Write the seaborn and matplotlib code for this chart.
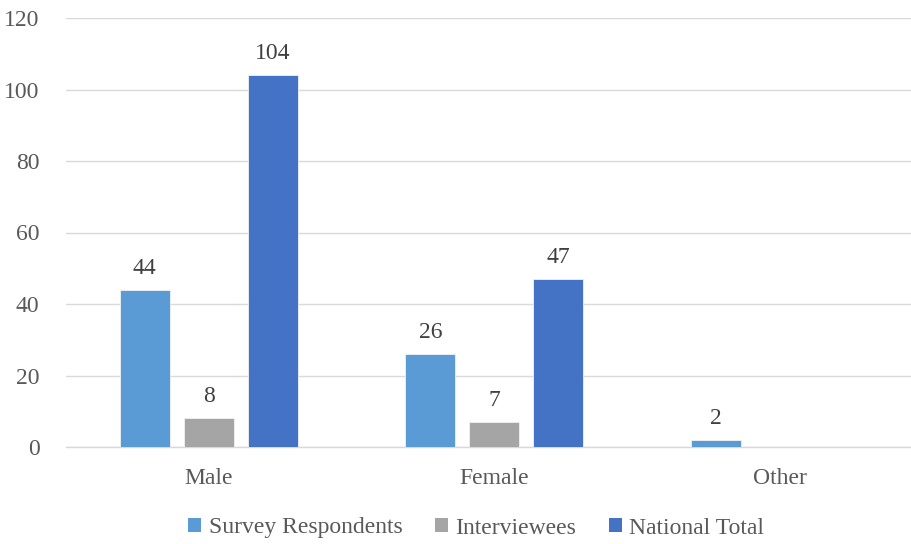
import numpy as np
import pandas as pd
import matplotlib
matplotlib.use("Agg")
import matplotlib.pyplot as plt
import seaborn as sns
from matplotlib.patches import Patch

categories = ["Male", "Female", "Other"]
series = ["Survey Respondents", "Interviewees", "National Total"]
survey_respondents = [44, 26, 2]
interviewees = [8, 7, np.nan]
national_total = [104, 47, np.nan]
yticks = [0, 20, 40, 60, 80, 100, 120]

colors = ["#5B9BD5", "#A5A5A5", "#4472C4"]

df = pd.DataFrame({
    "Gender": categories * 3,
    "Group": [series[0]] * 3 + [series[1]] * 3 + [series[2]] * 3,
    "Count": survey_respondents + interviewees + national_total,
})

sns.set_theme(style="white")
plt.rcParams["font.family"] = ["Liberation Serif", "DejaVu Serif"]

fig = plt.figure(figsize=(9.11, 5.44), dpi=100)
ax = fig.add_axes([66 / 911, 97 / 544, (911 - 66) / 911, (526 - 97) / 544])

sns.barplot(data=df, x="Gender", y="Count", hue="Group", hue_order=series,
            order=categories, palette=colors, saturation=1, width=0.672,
            gap=0.22, edgecolor="#F2F2F2", linewidth=0.6, legend=False,
            ax=ax, zorder=3)

for container in ax.containers:
    labels = ["" if np.isnan(v) else f"{v:g}" for v in container.datavalues]
    ax.bar_label(container, labels=labels, padding=8, fontsize=17,
                 color="#404040")

ax.set_ylim(0, 120)
ax.set_xlim(-0.5, -0.5 + (911 - 66) / 285.5)
ax.set_yticks(yticks)
ax.yaxis.grid(True, color="#D9D9D9", linewidth=1.0, zorder=0)
ax.set_axisbelow(True)
for side in ["top", "right", "left"]:
    ax.spines[side].set_visible(False)
ax.spines["bottom"].set_color("#D9D9D9")
ax.spines["bottom"].set_linewidth(1.0)
ax.tick_params(axis="both", length=0, labelsize=17, labelcolor="#595959")
ax.tick_params(axis="y", pad=19)
ax.tick_params(axis="x", pad=15)
ax.set_xlabel("")
ax.set_ylabel("")

handles = [Patch(facecolor=c, edgecolor="none") for c in colors]
fig.legend(handles, series, loc="center", bbox_to_anchor=(0.523, 1 - 528 / 544),
           ncol=3, frameon=False, fontsize=17, labelcolor="#595959",
           handlelength=0.55, handleheight=0.55, handletextpad=0.3,
           columnspacing=1.4)

fig.savefig("out.png", dpi=100)
